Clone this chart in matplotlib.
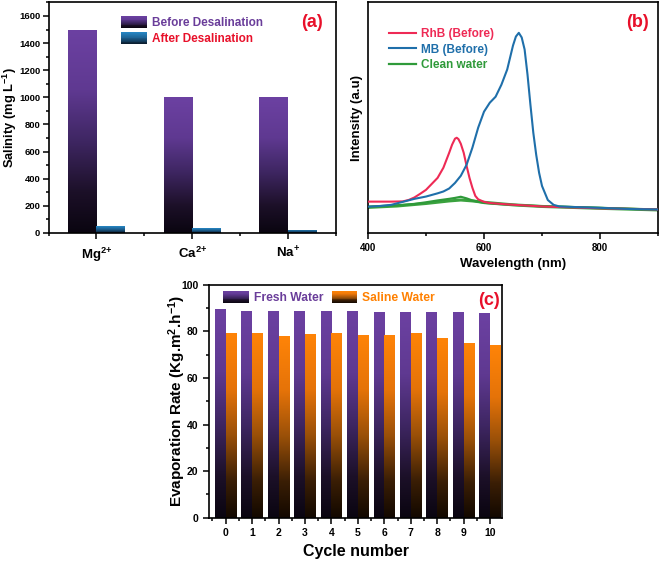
import numpy as np
import matplotlib
matplotlib.use("Agg")
import matplotlib.pyplot as plt
from matplotlib.colors import LinearSegmentedColormap
from matplotlib.patches import Rectangle, Patch
from matplotlib.legend_handler import HandlerBase
from matplotlib.ticker import MultipleLocator

plt.rcParams['font.family'] = ['Liberation Sans', 'DejaVu Sans']
plt.rcParams['font.weight'] = 'bold'
plt.rcParams['mathtext.fontset'] = 'custom'
plt.rcParams['mathtext.rm'] = 'Liberation Sans:bold'
plt.rcParams['mathtext.bf'] = 'Liberation Sans:bold'
plt.rcParams['mathtext.it'] = 'Liberation Sans:bold'
plt.rcParams['axes.linewidth'] = 1.2

# ---------------- data ----------------
ions = [r'Mg$^{2{+}}$', r'Ca$^{2{+}}$', r'Na$^{{+}}$']
salinity_before = [1500, 1000, 1000]
salinity_after = [50, 35, 25]

wl_rhb = [400, 420, 440, 460, 470, 480, 490, 500, 510, 520, 530, 540, 545, 550, 553, 556,
          560, 565, 570, 575, 580, 585, 590, 600, 610, 620, 640, 700, 800, 900]
int_rhb = [0.136, 0.136, 0.136, 0.137, 0.143, 0.154, 0.170, 0.187, 0.213, 0.239, 0.283, 0.348,
           0.383, 0.409, 0.413, 0.407, 0.387, 0.348, 0.291, 0.239, 0.196, 0.161, 0.146, 0.135,
           0.130, 0.128, 0.124, 0.115, 0.107, 0.102]

wl_mb = [400, 420, 440, 460, 480, 500, 520, 530, 540, 550, 560, 570, 580, 590, 600, 610, 620,
         630, 640, 650, 655, 660, 665, 670, 675, 680, 685, 690, 695, 700, 710, 720, 730, 750,
         800, 850, 900]
int_mb = [0.114, 0.117, 0.122, 0.135, 0.148, 0.158, 0.172, 0.180, 0.193, 0.217, 0.248, 0.296,
          0.370, 0.457, 0.526, 0.565, 0.591, 0.643, 0.709, 0.813, 0.852, 0.868, 0.848, 0.796,
          0.687, 0.557, 0.435, 0.339, 0.261, 0.204, 0.143, 0.122, 0.115, 0.113, 0.109, 0.104,
          0.102]

wl_clean = [400, 450, 480, 500, 520, 540, 550, 560, 570, 580, 600, 620, 650, 700, 800, 900]
int_clean = [0.114, 0.120, 0.126, 0.133, 0.141, 0.148, 0.152, 0.157, 0.150, 0.141, 0.130, 0.126,
             0.122, 0.116, 0.109, 0.101]
wl_clean2 = [400, 450, 500, 540, 560, 580, 600, 650, 700, 800, 900]
int_clean2 = [0.111, 0.117, 0.128, 0.139, 0.143, 0.139, 0.133, 0.122, 0.115, 0.107, 0.100]

cycles = list(range(11))
fresh_rate = [89.7, 88.9, 88.9, 88.8, 88.8, 88.8, 88.5, 88.5, 88.4, 88.3, 87.8]
saline_rate = [79.2, 79.2, 78.0, 78.9, 79.2, 78.7, 78.6, 79.2, 77.0, 74.9, 74.2]

# ---------------- styles ----------------
cm_purple = LinearSegmentedColormap.from_list('pur', [(0, '#0a0510'), (0.2, '#1c1028'), (0.45, '#3e2662'),
                                                      (0.7, '#5f3991'), (1.0, '#6c41a2')])
cm_orange = LinearSegmentedColormap.from_list('ora', [(0, '#120800'), (0.2, '#3a1e05'), (0.45, '#9a5008'),
                                                      (0.7, '#e57309'), (1.0, '#ff8407')])
cm_blue = LinearSegmentedColormap.from_list('blu', [(0, '#0a1a2a'), (0.5, '#1b5b8a'), (1.0, '#2788c6')])

PURPLE_TXT = '#6a3d9a'
RED_TXT = '#e8102a'
ORANGE_TXT = '#ff8000'
RHB_C = '#ee2a55'
MB_C = '#1f6faa'
CLEAN_C = '#2f9a3a'
GRAD = np.linspace(0, 1, 256).reshape(-1, 1)


def gradient_bars(ax, bars, cmap):
    for b in bars:
        b.set_facecolor('none')
        b.set_edgecolor('none')
        x, y = b.get_x(), b.get_y()
        w, h = b.get_width(), b.get_height()
        im = ax.imshow(GRAD, extent=[x, x + w, y, y + h], origin='lower', cmap=cmap,
                       aspect='auto', interpolation='bilinear', zorder=2)
        im.set_clip_path(b)


class GradHandler(HandlerBase):
    def __init__(self, cmap):
        super().__init__()
        self.cmap = cmap

    def create_artists(self, legend, orig_handle, xdescent, ydescent, width, height, fontsize, trans):
        n = 14
        arts = []
        for i in range(n):
            arts.append(Rectangle((-xdescent, -ydescent + i * height / n), width, height / n + 0.3,
                                  facecolor=self.cmap((i + 0.5) / n), edgecolor='none', transform=trans))
        return arts


def style_ax(ax, labelsize):
    ax.tick_params(which='both', direction='out', width=1.1, labelsize=labelsize)
    ax.tick_params(which='major', length=4)
    ax.tick_params(which='minor', length=2.5)
    for s in ax.spines.values():
        s.set_linewidth(1.2)


fig = plt.figure(figsize=(6.61, 5.61), dpi=100)

# ---------------- panel (a) ----------------
axa = fig.add_axes([0.0734, 0.5847, 0.435, 0.411])
xa = np.arange(len(ions))
wa = 0.30
b1 = axa.bar(xa - wa / 2, salinity_before, wa)
b2 = axa.bar(xa + wa / 2, salinity_after, wa)
gradient_bars(axa, b1, cm_purple)
gradient_bars(axa, b2, cm_blue)
axa.set_xlim(-0.5, 2.5)
axa.set_ylim(0, 1700)
axa.set_xticks(xa)
axa.set_xticklabels(ions)
axa.xaxis.set_minor_locator(MultipleLocator(0.5))
axa.yaxis.set_major_locator(MultipleLocator(200))
axa.yaxis.set_minor_locator(MultipleLocator(100))
style_ax(axa, 6.8)
axa.tick_params(axis='y', which='major', pad=2)
axa.tick_params(axis='x', which='major', labelsize=9.5, pad=5)
axa.set_ylabel(r'Salinity (mg L$^{-1}$)', fontsize=9.3, fontweight='bold')
axa.yaxis.set_label_coords(-0.104, 0.5)
h1, h2 = Patch(), Patch()
lega = axa.legend([h1, h2], ['Before Desalination', 'After Desalination'],
                  handler_map={h1: GradHandler(cm_purple), h2: GradHandler(cm_blue)},
                  loc='upper left', bbox_to_anchor=(0.225, 0.975), frameon=False,
                  prop={'size': 8.5, 'weight': 'bold'}, handlelength=2.2, handleheight=1.1,
                  handletextpad=0.4, labelspacing=0.3, borderpad=0.2)
lega.get_texts()[0].set_color(PURPLE_TXT)
lega.get_texts()[1].set_color(RED_TXT)
axa.text(0.915, 0.915, '(a)', transform=axa.transAxes, color=RED_TXT, fontsize=13,
         fontweight='bold', ha='center', va='center')

# ---------------- panel (b) ----------------
axb = fig.add_axes([0.5567, 0.5847, 0.4388, 0.411])
axb.plot(wl_clean2, int_clean2, color='#3aa23e', lw=2.2, zorder=2)
axb.plot(wl_clean, int_clean, color=CLEAN_C, lw=1.6, zorder=2, label='Clean water')
axb.plot(wl_rhb, int_rhb, color=RHB_C, lw=1.5, zorder=3, label='RhB (Before)')
axb.plot(wl_mb, int_mb, color=MB_C, lw=1.5, zorder=3, label='MB (Before)')
axb.set_xlim(400, 900)
axb.set_ylim(0, 1)
axb.set_yticks([])
axb.xaxis.set_major_locator(MultipleLocator(200))
axb.xaxis.set_minor_locator(MultipleLocator(100))
style_ax(axb, 7)
axb.set_xlabel('Wavelength (nm)', fontsize=9.5, fontweight='bold', labelpad=3)
axb.set_ylabel('Intensity (a.u)', fontsize=9.5, fontweight='bold')
axb.yaxis.set_label_coords(-0.018, 0.5)
hs, ls = axb.get_legend_handles_labels()
order = [1, 2, 0]
legb = axb.legend([hs[i] for i in order], [ls[i] for i in order], loc='upper left',
                  bbox_to_anchor=(0.045, 0.925), frameon=False, prop={'size': 8.5, 'weight': 'bold'},
                  handlelength=2.3, handletextpad=0.4, labelspacing=0.3, borderpad=0.2)
for t, c in zip(legb.get_texts(), [RHB_C, MB_C, CLEAN_C]):
    t.set_color(c)
axb.text(0.93, 0.915, '(b)', transform=axb.transAxes, color=RED_TXT, fontsize=13,
         fontweight='bold', ha='center', va='center')

# ---------------- panel (c) ----------------
axc = fig.add_axes([0.3162, 0.0775, 0.4433, 0.4145])
xc = np.array(cycles)
wc = 0.41
c1 = axc.bar(xc - wc / 2, fresh_rate, wc)
c2 = axc.bar(xc + wc / 2, saline_rate, wc)
gradient_bars(axc, c1, cm_purple)
gradient_bars(axc, c2, cm_orange)
axc.set_xlim(-0.63, 10.45)
axc.set_ylim(0, 100)
axc.set_xticks(xc)
axc.xaxis.set_minor_locator(MultipleLocator(0.5))
axc.yaxis.set_major_locator(MultipleLocator(20))
axc.yaxis.set_minor_locator(MultipleLocator(10))
style_ax(axc, 7.5)
axc.set_xlabel('Cycle number', fontsize=11.5, fontweight='bold')
axc.xaxis.set_label_coords(0.5, -0.112)
axc.set_ylabel(r'Evaporation Rate (Kg.m$^{2}$.h$^{-1}$)', fontsize=11, fontweight='bold')
axc.yaxis.set_label_coords(-0.072, 0.5)
g1, g2 = Patch(), Patch()
legc = axc.legend([g1, g2], ['Fresh Water', 'Saline Water'],
                  handler_map={g1: GradHandler(cm_purple), g2: GradHandler(cm_orange)},
                  loc='upper left', bbox_to_anchor=(0.02, 1.01), frameon=False, ncol=2,
                  prop={'size': 8.7, 'weight': 'bold'}, handlelength=2.1, handleheight=1.1,
                  handletextpad=0.4, columnspacing=0.75, borderpad=0.2)
legc.get_texts()[0].set_color(PURPLE_TXT)
legc.get_texts()[1].set_color(ORANGE_TXT)
axc.text(0.955, 0.935, '(c)', transform=axc.transAxes, color=RED_TXT, fontsize=13,
         fontweight='bold', ha='center', va='center', zorder=5)

fig.savefig('out.png', dpi=100)
